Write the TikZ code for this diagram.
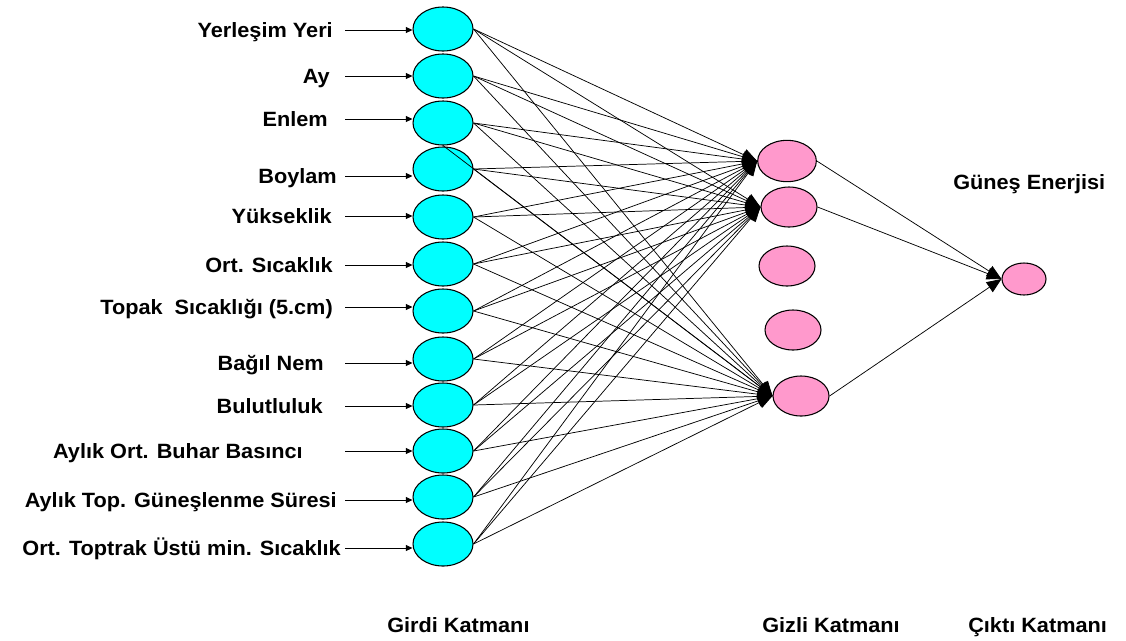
\documentclass[tikz,border=0pt]{standalone}
\usepackage{graphicx}
\usepackage{fontspec}
\setmainfont{Liberation Sans}
\usetikzlibrary{arrows.meta,shapes.geometric}
\definecolor{incyan}{HTML}{00FFFF}
\definecolor{hidpink}{HTML}{FF99CC}
\newcommand{\wide}[1]{\scalebox{1.05}[1]{#1}}
\tikzset{
  inp/.style={ellipse, draw=black, line width=0.8pt, fill=incyan,
    minimum width=45pt, minimum height=33pt, inner sep=0pt},
  hid/.style={ellipse, draw=black, line width=0.8pt, fill=hidpink,
    minimum width=42pt, minimum height=30pt, inner sep=0pt},
  outn/.style={ellipse, draw=black, line width=0.8pt, fill=hidpink,
    minimum width=33pt, minimum height=24pt, inner sep=0pt},
  lbl/.style={font=\fontsize{15.5pt}{18pt}\selectfont\bfseries, inner sep=0pt, anchor=base east},
  ttl/.style={font=\fontsize{15.5pt}{18pt}\selectfont\bfseries, inner sep=0pt, anchor=base west},
  feed/.style={line width=0.6pt, -{Triangle[length=5pt,width=4.5pt]}},
  link/.style={line width=0.55pt, -{Triangle[length=11pt,width=9pt]}},
}
\begin{document}
\begin{tikzpicture}[x=0.75pt, y=-0.75pt]
\useasboundingbox (0,0) rectangle (1126,640);

% input layer
\foreach \i/\y in {1/29, 2/76, 3/123, 4/169, 5/217, 6/264, 7/311, 8/359, 9/405, 10/451, 11/497, 12/544}
  \node[inp] (in\i) at (443,\y) {};

% hidden layer
\node[hid, minimum width=44pt, minimum height=31pt] (h1) at (787,161) {};
\node[hid] (h2) at (789,207) {};
\node[hid] (h3) at (787,266) {};
\node[hid] (h4) at (793,330) {};
\node[hid] (h5) at (801,396) {};

% output node
\node[outn] (o) at (1024,279) {};

% input labels with their feeding arrows
\foreach \i/\rx/\ay/\txt in {
  1/333/30/{Yerleşim Yeri},
  2/330/76/{Ay},
  3/328/119/{Enlem},
  4/337/176/{Boylam},
  5/332/216/{Yükseklik},
  6/333/265/{Ort. Sıcaklık},
  7/333/307/{Topak\ \ Sıcaklığı (5.cm)},
  8/324/363/{Bağıl Nem},
  9/323/406/{Bulutluluk},
  10/303/451/{Aylık Ort. Buhar Basıncı},
  11/337/500/{Aylık Top. Güneşlenme Süresi},
  12/341/548/{Ort. Toptrak Üstü min. Sıcaklık}} {
  \node[lbl] (l\i) at (\rx,\ay+7) {\wide{\txt}};
  \coordinate (s\i) at (345,\ay);
  \draw[feed] (s\i) -- (s\i -| in\i.west);
}

% fully connected links to the active hidden units
\foreach \i in {1,...,12} {
  \draw[link] (in\i.east) -- (h1.west);
  \draw[link] (in\i.east) -- (h2.west);
  \draw[link] (in\i.east) -- (h5.west);
}
\draw[link] (in3.south) -- (h5.west);

% hidden to output
\draw[link] (h1.east) -- (o.west);
\draw[link] (h2.east) -- (o.west);
\draw[link] (h5.east) -- (o.west);

% layer titles
\node[ttl] (tout) at (953,189) {\wide{Güneş Enerjisi}};
\node[ttl] (tin) at (387,632) {\wide{Girdi Katmanı}};
\node[ttl] (thid) at (762,632) {\wide{Gizli Katmanı}};
\node[ttl] (tres) at (968,632) {\wide{Çıktı Katmanı}};
\end{tikzpicture}
\end{document}
